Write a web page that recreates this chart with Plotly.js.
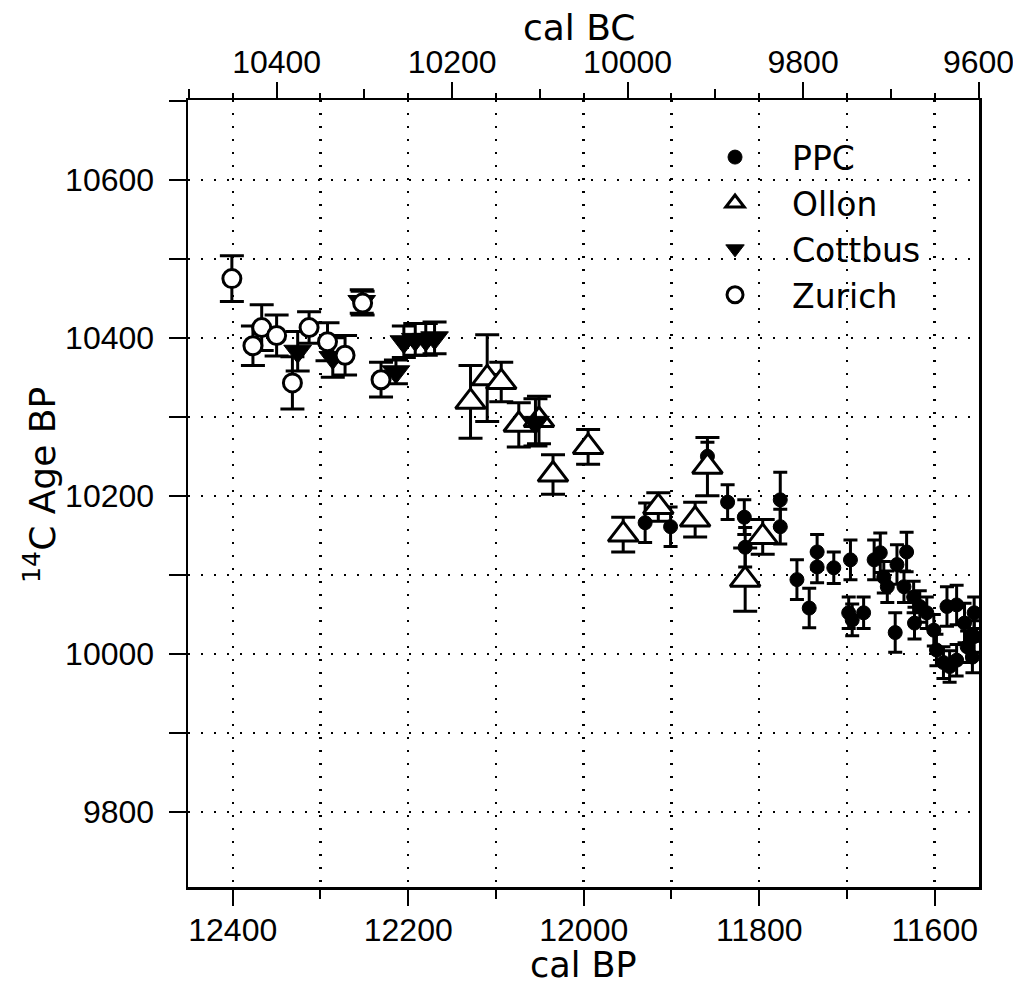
<!DOCTYPE html>
<html>
<head>
<meta charset="utf-8">
<script src="https://cdn.plot.ly/plotly-3.0.1.min.js"></script>
<style>html,body{margin:0;padding:0;background:#fff;}#chart{width:1013px;height:986px;}</style>
</head>
<body>
<div id="chart"></div>
<script>
// ---- Data (cal BP, 14C age BP, 1-sigma error) ----
var ppcX = [11930, 11901, 11859, 11836, 11817, 11816, 11776, 11776, 11757, 11743, 11734, 11734, 11715, 11696, 11698, 11681, 11694, 11669, 11662, 11658, 11654, 11643, 11632, 11645, 11635, 11624, 11617, 11623, 11609, 11601, 11598, 11590, 11583, 11575, 11586, 11575, 11566, 11563, 11557, 11555, 11555];
var ppcY = [10166, 10161, 10250, 10192, 10173, 10135, 10195, 10161, 10094, 10058, 10129, 10110, 10109, 10119, 10052, 10052, 10043, 10119, 10128, 10097, 10085, 10113, 10129, 10027, 10085, 10072, 10060, 10039, 10052, 10030, 10005, 9989, 9984, 9992, 10060, 10062, 10039, 10009, 9996, 10052, 10022];
var ppcErr = [25, 25, 18, 22, 22, 25, 35, 22, 25, 25, 22, 20, 20, 25, 20, 20, 20, 25, 25, 20, 20, 25, 25, 25, 20, 20, 20, 20, 20, 20, 20, 20, 20, 20, 25, 25, 25, 20, 20, 20, 20];

var ollonX = [12129, 12110, 12094, 12074, 12051, 12035, 11995, 11955, 11915, 11873, 11859, 11816, 11796];
var ollonY = [10319, 10349, 10344, 10290, 10296, 10227, 10262, 10151, 10186, 10170, 10237, 10094, 10148];
var ollonErr = [46, 55, 25, 28, 30, 25, 22, 22, 18, 22, 37, 40, 22];

var cottbusX = [12326, 12286, 12253, 12214, 12205, 12192, 12180, 12170, 12055];
var cottbusY = [10383, 10375, 10446, 10357, 10395, 10398, 10398, 10400, 10293];
var cottbusErr = [25, 25, 15, 15, 20, 20, 20, 20, 30];

var zurichX = [12401, 12377, 12367, 12350, 12332, 12313, 12292, 12272, 12231, 12252];
var zurichY = [10475, 10390, 10413, 10403, 10343, 10413, 10395, 10378, 10347, 10444];
var zurichErr = [29, 25, 29, 26, 33, 20, 24, 25, 22, 15];

var bpRange = [12451, 11549.5];
var c14Range = [9705, 10701];
var bcOffset = 1950;

var FONT = 'Liberation Sans, Arial, sans-serif';
var TFONT = 'DejaVu Sans, Verdana, sans-serif';

function errbar(arr, w) {
  return {type: 'data', array: arr, visible: true, color: '#000', thickness: 3, width: w};
}

var traces = [
  {name: 'PPC', x: ppcX, y: ppcY, type: 'scatter', mode: 'markers',
   marker: {symbol: 'circle', size: 14, color: '#000', line: {color: '#000', width: 1}},
   error_y: errbar(ppcErr, 7)},
  {name: 'Ollon', x: ollonX, y: ollonY, type: 'scatter', mode: 'markers',
   marker: {symbol: 'triangle-up', size: 26, color: '#fff', line: {color: '#000', width: 3}},
   error_y: errbar(ollonErr, 12)},
  {name: 'Cottbus', x: cottbusX, y: cottbusY, type: 'scatter', mode: 'markers',
   marker: {symbol: 'triangle-down', size: 24, color: '#000', line: {color: '#000', width: 1}},
   error_y: errbar(cottbusErr, 12)},
  {name: 'Zurich', x: zurichX, y: zurichY, type: 'scatter', mode: 'markers',
   marker: {symbol: 'circle', size: 18, color: '#fff', line: {color: '#000', width: 3}},
   error_y: errbar(zurichErr, 12)},
  {x: [], y: [], xaxis: 'x2', yaxis: 'y', showlegend: false, hoverinfo: 'skip', type: 'scatter', mode: 'markers'},
  {x: [], y: [], xaxis: 'x3', yaxis: 'y', showlegend: false, hoverinfo: 'skip', type: 'scatter', mode: 'markers'}
];

var gridDash = '2px,11px';

var layout = {
  width: 1013, height: 986,
  margin: {l: 188, r: 34, t: 100, b: 99},
  paper_bgcolor: '#fff', plot_bgcolor: '#fff',
  font: {family: FONT, color: '#000', size: 32},
  showlegend: true,
  legend: {
    x: 0.6195, y: 0.963, xanchor: 'left', yanchor: 'top',
    bgcolor: 'rgba(0,0,0,0)', borderwidth: 0,
    font: {family: TFONT, size: 33, color: '#000'},
    itemwidth: 104, tracegroupgap: 0
  },
  xaxis: {
    range: bpRange, autorange: false,
    showline: true, linecolor: '#000', linewidth: 2.5, mirror: false,
    ticks: 'outside', ticklen: 16, tickwidth: 2, tickcolor: '#000',
    dtick: 200, tick0: 12400, tickformat: 'd',
    tickfont: {family: FONT, size: 32},
    ticklabelstandoff: -3,
    showgrid: true, gridcolor: '#000', gridwidth: 2.5, griddash: gridDash,
    minor: {dtick: 100, tick0: 12400, ticks: 'outside', ticklen: 9, tickwidth: 2, tickcolor: '#000',
            showgrid: true, gridcolor: '#000', gridwidth: 2.5, griddash: gridDash},
    zeroline: false,
    automargin: false
  },
  xaxis2: {
    overlaying: 'x', side: 'top', anchor: 'y',
    range: [bpRange[0] - bcOffset, bpRange[1] - bcOffset], autorange: false,
    showline: true, linecolor: '#000', linewidth: 2.5,
    ticks: 'outside', ticklen: 16, tickwidth: 2, tickcolor: '#000',
    dtick: 200, tick0: 10400, tickformat: 'd',
    tickfont: {family: FONT, size: 32},
    ticklabelstandoff: -4,
    ticklabeloverflow: 'allow',
    minor: {dtick: 50, tick0: 10400, ticks: 'outside', ticklen: 5, tickwidth: 2, tickcolor: '#000', showgrid: false},
    showgrid: false, zeroline: false,
    automargin: false
  },
  xaxis3: {
    overlaying: 'x', side: 'top', anchor: 'y',
    range: [bpRange[0] - bcOffset, bpRange[1] - bcOffset], autorange: false,
    showline: false, showticklabels: false,
    ticks: 'outside', ticklen: 10, tickwidth: 2, tickcolor: '#000',
    dtick: 200, tick0: 10300,
    showgrid: false, zeroline: false, automargin: false
  },
  yaxis: {
    range: c14Range, autorange: false,
    showline: true, linecolor: '#000', linewidth: 2.5, mirror: true,
    ticks: 'outside', ticklen: 17, tickwidth: 2, tickcolor: '#000',
    dtick: 200, tick0: 9800, tickformat: 'd',
    tickfont: {family: FONT, size: 32},
    ticklabelstandoff: 8,
    showgrid: true, gridcolor: '#000', gridwidth: 2.5, griddash: gridDash,
    minor: {dtick: 100, tick0: 9800, ticks: 'outside', ticklen: 17, tickwidth: 2, tickcolor: '#000',
            showgrid: true, gridcolor: '#000', gridwidth: 2.5, griddash: gridDash},
    zeroline: false,
    automargin: false
  },
  annotations: [
    {text: 'cal BP', xref: 'paper', yref: 'paper', x: 0.4994, y: -0.0995,
     xanchor: 'center', yanchor: 'middle', showarrow: false, height: 36,
     font: {family: TFONT, size: 35, color: '#000'}},
    {text: 'cal BC', xref: 'paper', yref: 'paper', x: 0.495, y: 1.0915,
     xanchor: 'center', yanchor: 'middle', showarrow: false,
     font: {family: TFONT, size: 36, color: '#000'}},
    {text: '<sup>14</sup>C Age BP', xref: 'paper', yref: 'paper', x: -0.187, y: 0.511,
     xanchor: 'center', yanchor: 'middle', showarrow: false, textangle: -90,
     font: {family: TFONT, size: 36, color: '#000'}}
  ]
};

Plotly.newPlot('chart', traces, layout, {staticPlot: true, displayModeBar: false});
</script>
</body>
</html>
